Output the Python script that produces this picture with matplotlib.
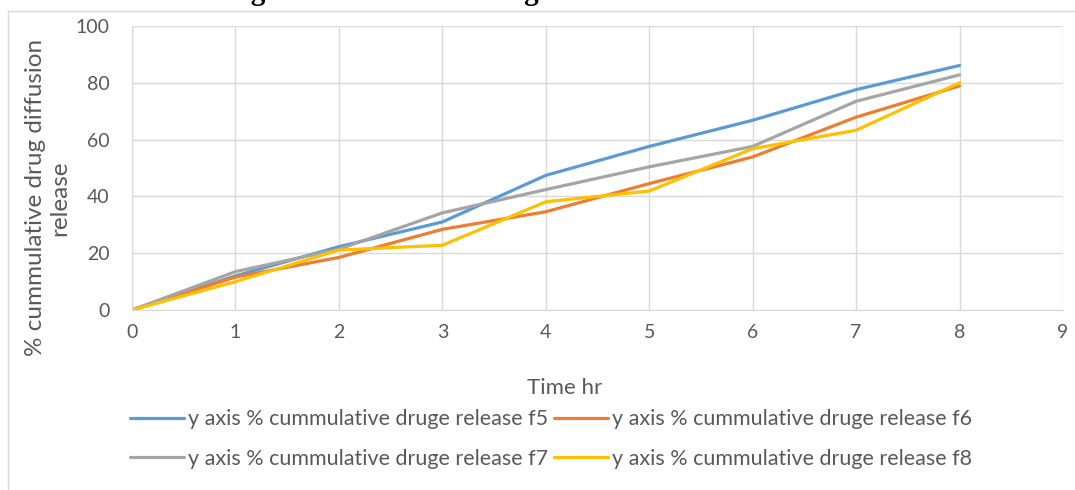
import matplotlib.pyplot as plt
from matplotlib.lines import Line2D

plt.rcParams['font.family'] = ['Lato', 'DejaVu Sans']

time_hr = [0, 1, 2, 3, 4, 5, 6, 7, 8]
f5 = [0, 12.0, 22.3, 31.0, 47.4, 57.6, 66.8, 77.6, 86.1]
f6 = [0, 11.6, 18.5, 28.4, 34.6, 44.5, 53.9, 67.9, 78.9]
f7 = [0, 13.5, 21.4, 34.2, 42.4, 50.4, 57.6, 73.5, 82.8]
f8 = [0, 10.0, 21.1, 22.8, 38.1, 41.9, 56.8, 63.3, 80.0]

labels = ["y axis % cummulative druge release f5",
          "y axis % cummulative druge release f6",
          "y axis % cummulative druge release f7",
          "y axis % cummulative druge release f8"]
colors = ["#5B9BD5", "#ED7D31", "#A5A5A5", "#FFC000"]

fig = plt.figure(figsize=(10.75, 4.9), dpi=100)
ax = fig.add_axes([132 / 1075, 1 - 310 / 490, 931 / 1075, 284 / 490])

lines = []
for ys, lab, c in zip([f5, f6, f7, f8], labels, colors):
    ln, = ax.plot(time_hr, ys, color=c, lw=2.3, label=lab, solid_capstyle='round')
    lines.append(ln)

ax.set_xlim(0, 9)
ax.set_ylim(0, 100)
ax.set_xticks(range(0, 10))
ax.set_yticks(range(0, 101, 20))
ax.grid(True, color="#D9D9D9", lw=1.0)
ax.set_axisbelow(True)
for s in ax.spines.values():
    s.set_visible(False)
ax.spines['left'].set_visible(True)
ax.spines['bottom'].set_visible(True)
ax.spines['left'].set_color("#D9D9D9")
ax.spines['bottom'].set_color("#D9D9D9")
ax.tick_params(length=0, labelsize=14, labelcolor="#595959")
ax.tick_params(axis='y', pad=16)
ax.tick_params(axis='x', pad=10)

ax.set_ylabel("% cummulative drug diffusion\nrelease", fontsize=17.5, color="#595959",
              linespacing=1.2)
ax.yaxis.set_label_coords(-0.066, 0.395)
ax.set_xlabel("Time hr", fontsize=16, color="#595959")
ax.xaxis.set_label_coords(0.465, -0.24)

# legend rows: f5 f6 / f7 f8 (matplotlib fills by column)
order = [0, 2, 1, 3]
fig.legend([lines[i] for i in order], [labels[i] for i in order],
           loc='center', bbox_to_anchor=(551 / 1075, 1 - 439 / 490), ncol=2,
           frameon=False, fontsize=15.5, labelcolor="#595959", handlelength=2.5,
           handletextpad=0.18, columnspacing=0.28, labelspacing=0.92)

# chart area border (top and left visible)
fig.add_artist(Line2D([8 / 1075, 1.0], [1 - 11 / 490, 1 - 11 / 490],
                      transform=fig.transFigure, color="#D9D9D9", lw=1))
fig.add_artist(Line2D([8 / 1075, 8 / 1075], [0, 1 - 11 / 490],
                      transform=fig.transFigure, color="#D9D9D9", lw=1))

# clipped caption at the very top
fig.text(523 / 1075, 1.0, "Fig. 10: Cumulative drug of formulation f5 to f8",
         ha='center', va='baseline', fontsize=21, fontweight='bold',
         family='Liberation Serif')

fig.savefig("out.png", dpi=100)
